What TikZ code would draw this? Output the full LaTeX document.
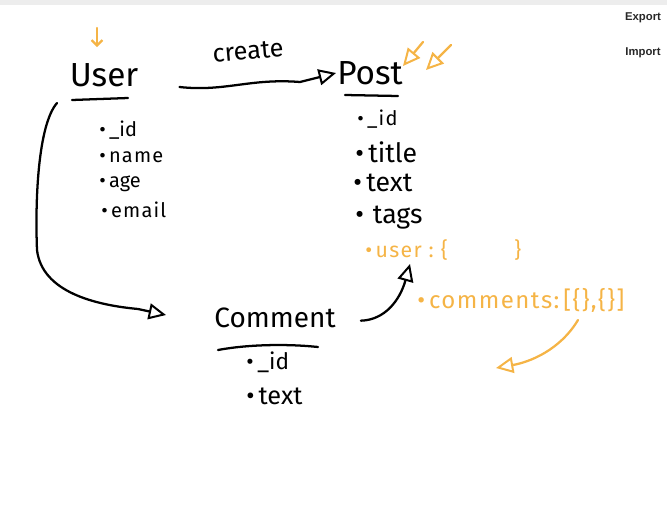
\documentclass[tikz,border=0pt]{standalone}
\usepackage{fontspec}
\setmainfont{Fira Sans}
\newfontfamily\uifont{Liberation Sans}
\usepackage{xcolor}
\usetikzlibrary{arrows.meta}

\definecolor{penorange}{RGB}{245,180,70}
\definecolor{uigrey}{RGB}{40,40,40}
\newcommand{\dotb}{\textbullet\,}
\tikzset{
  ink/.style={line width=1.7pt, line cap=round, line join=round},
  inkorange/.style={ink, draw=penorange},
  openhead/.style={-{Triangle[open,length=13pt,width=12pt,line width=1.5pt]}},
  hand/.style={inner sep=0.75pt},
  field/.style={hand, anchor=west},
  wide/.style={font=\addfontfeature{LetterSpace=6}},
}

\begin{document}
\begin{tikzpicture}[x=0.75pt,y=0.75pt,yscale=-1,xscale=1]
\useasboundingbox (0,0) rectangle (667,518);

%Shape: top strip
\fill [black!7] (0,0) rectangle (667,5);

% Text Node
\draw (643,18) node [hand] (export) {\uifont\fontsize{8.5}{10}\selectfont\bfseries\color{uigrey}Export};
% Text Node
\draw (643,53) node [hand] (import) {\uifont\fontsize{8.5}{10}\selectfont\bfseries\color{uigrey}Import};

% Text Node
\draw (104,75) node [hand] (user) {\fontsize{25}{30}\selectfont User};
% Text Node
\draw (370,73) node [hand] (post) {\fontsize{25}{30}\selectfont Post};
% Text Node
\draw (275,318) node [hand] (comment) {\fontsize{21}{26}\selectfont Comment};
% Text Node
\draw (248,51) node [hand, rotate=5] (create) {\fontsize{19}{24}\selectfont create};

%Straight Lines: underlines
\draw [ink] (72,100) -- (128,98) ;
\draw [ink] (345,95) -- (398,96) ;
\draw [ink] (218,350) .. controls (250,344) and (290,344) .. (318,347) ;

% Text Node: user fields
\draw (98,130) node [field] (uid) {\fontsize{15}{18}\selectfont\dotb\_id};
\draw (98,157) node [field, wide] (uname) {\fontsize{15}{18}\selectfont\dotb name};
\draw (98,184) node [field] (uage) {\fontsize{15}{18}\selectfont\dotb age};
\draw (100,210) node [field, wide] (uemail) {\fontsize{15}{18}\selectfont\dotb email};

% Text Node: post fields
\draw (356,119) node [field, wide] (pid) {\fontsize{15}{18}\selectfont\dotb\_id};
\draw (354,152) node [field] (ptitle) {\fontsize{20}{24}\selectfont\dotb title};
\draw (352,183) node [field] (ptext) {\fontsize{20}{24}\selectfont\dotb text};
\draw (354,218) node [field] (ptags) {\fontsize{20}{24}\selectfont\dotb\,tags};
\draw (364,250) node [field, wide] (puser) {\fontsize{16}{18}\selectfont\color{penorange}\dotb user\ :\ \{\hspace{50pt}\}};
\draw (416,300) node [field, wide] (pcomments) {\fontsize{18}{20}\selectfont\color{penorange}\dotb comments:\,[\{\},\{\}]};

% Text Node: comment fields
\draw (245,362) node [field] (cid) {\fontsize{17}{20}\selectfont\dotb\_id};
\draw (245,396) node [field] (ctext) {\fontsize{19}{22}\selectfont\dotb text};

%Curve Lines: create
\draw [ink, openhead] ([xshift=30pt,yshift=9pt]user.east) .. controls (225,92) and (250,78) .. (300,82) -- (post.west) ;

%Curve Lines: bracket from user to comment
\coordinate (ubr) at (57,103);
\coordinate (cin) at (166,315);
\draw [ink, openhead] (ubr) .. controls (38,125) and (35,200) .. (37,250) .. controls (42,292) and (95,305) .. (138,309) -- (cin) ;

%Curve Lines: comment into post
\coordinate (uin) at (410,264);
\draw [ink, openhead] ([xshift=18pt,yshift=2pt]comment.east) .. controls (385,320) and (400,300) .. (uin) ;

%Curve Lines: orange marks
\coordinate (cmout) at (578,320);
\coordinate (cmin) at (496,368);
\draw [inkorange, openhead] (cmout) .. controls (560,350) and (530,362) .. (cmin) ;
\coordinate (udown) at (97,28);
\draw [inkorange, -{Straight Barb[length=4pt,width=8pt]}] (udown) -- ++(0,19) ;
\coordinate (pa) at (423,42);
\coordinate (pb) at (451,45);
\draw [inkorange, openhead] (pa) -- ++(-20,24) ;
\draw [inkorange, openhead] (pb) -- ++(-25,25) ;

\end{tikzpicture}
\end{document}
